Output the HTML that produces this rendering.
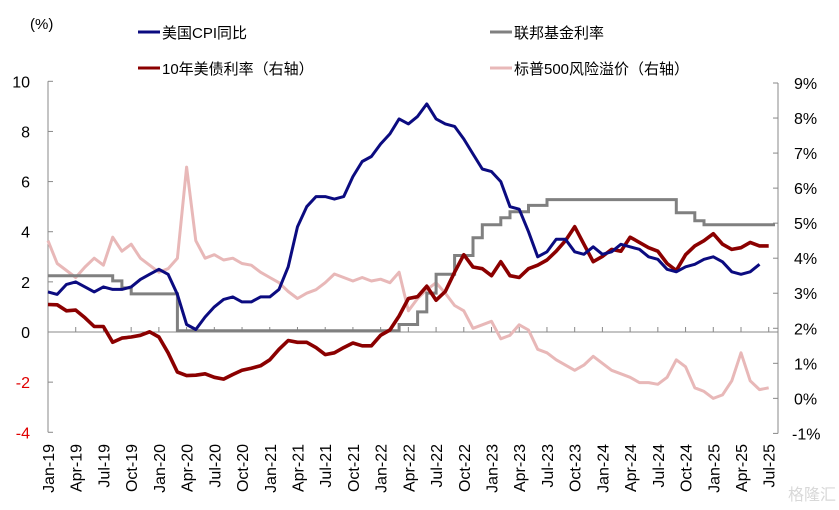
<!DOCTYPE html>
<html><head><meta charset="utf-8"><style>
body{margin:0;background:#fff;}
svg{display:block;font-family:"Liberation Sans","Noto Sans CJK SC",sans-serif;}
</style></head><body>
<svg id="chart" width="839" height="510" viewBox="0 0 839 510" xmlns="http://www.w3.org/2000/svg">
<g id="axes"></g>
<g id="series"></g>
<g id="legend">
  <text x="30" y="29" font-size="15">(%)</text>
  <line x1="138" y1="32" x2="160" y2="32" stroke="#0b0b80" stroke-width="3"/>
  <text x="162" y="38" font-size="15">美国CPI同比</text>
  <line x1="490" y1="32" x2="512" y2="32" stroke="#808080" stroke-width="3"/>
  <text x="514" y="38" font-size="15">联邦基金利率</text>
  <line x1="138" y1="68" x2="160" y2="68" stroke="#8b0000" stroke-width="3"/>
  <text x="162" y="74" font-size="15">10年美债利率（右轴）</text>
  <line x1="490" y1="68" x2="512" y2="68" stroke="#e8b8b8" stroke-width="3"/>
  <text x="514" y="74" font-size="15">标普500风险溢价（右轴）</text>
</g>
<text x="788" y="500" font-size="16" fill="#d8d8d8">格隆汇</text>
</svg>
<script>
const xLabels=["Jan-19","Apr-19","Jul-19","Oct-19","Jan-20","Apr-20","Jul-20","Oct-20","Jan-21","Apr-21","Jul-21","Oct-21","Jan-22","Apr-22","Jul-22","Oct-22","Jan-23","Apr-23","Jul-23","Oct-23","Jan-24","Apr-24","Jul-24","Oct-24","Jan-25","Apr-25","Jul-25"];
const leftTicks=[10,8,6,4,2,0,-2,-4];
const rightTicks=[9,8,7,6,5,4,3,2,1,0,-1];
const cpi=[1.6,1.5,1.9,2.0,1.8,1.6,1.8,1.7,1.7,1.8,2.1,2.3,
2.5,2.3,1.5,0.3,0.1,0.6,1.0,1.3,1.4,1.2,1.2,1.4,
1.4,1.7,2.6,4.2,5.0,5.4,5.4,5.3,5.4,6.2,6.8,7.0,
7.5,7.9,8.5,8.3,8.6,9.1,8.5,8.3,8.2,7.7,7.1,6.5,
6.4,6.0,5.0,4.9,4.0,3.0,3.2,3.7,3.7,3.2,3.1,3.4,
3.1,3.2,3.5,3.4,3.3,3.0,2.9,2.5,2.4,2.6,2.7,2.9,
3.0,2.8,2.4,2.3,2.4,2.7];
const fedFunds=[2.24,2.24,2.24,2.24,2.24,2.24,2.24,2.04,1.76,1.52,1.52,1.52,1.52,1.52,
0.05,0.05,0.05,0.05,0.05,0.05,0.05,0.05,0.05,0.05,0.05,0.05,0.05,0.05,0.05,0.05,0.05,0.05,0.05,0.05,0.05,0.05,0.05,0.05,
0.3,0.3,0.8,1.55,2.3,2.3,3.05,3.05,3.76,4.28,4.28,4.56,4.8,4.8,5.05,5.05,
5.28,5.28,5.28,5.28,5.28,5.28,5.28,5.28,5.28,5.28,5.28,5.28,5.28,5.28,
4.76,4.76,4.44,4.28,4.28,4.28,4.28,4.28,4.28,4.28,4.28];
const tenYear=[2.68,2.67,2.5,2.52,2.3,2.05,2.05,1.6,1.72,1.75,1.8,1.9,
1.75,1.3,0.75,0.65,0.66,0.7,0.6,0.55,0.68,0.8,0.86,0.93,
1.1,1.4,1.65,1.6,1.6,1.45,1.25,1.3,1.45,1.58,1.5,1.5,
1.8,1.95,2.35,2.85,2.9,3.2,2.8,3.05,3.6,4.1,3.75,3.7,
3.5,3.9,3.5,3.45,3.7,3.8,3.95,4.2,4.5,4.9,4.4,3.9,
4.05,4.25,4.2,4.6,4.45,4.3,4.2,3.85,3.65,4.1,4.35,4.5,
4.7,4.4,4.25,4.3,4.45,4.35,4.35];
const erp=[4.5,3.85,3.65,3.45,3.75,4.0,3.8,4.6,4.2,4.4,4.0,3.8,
3.6,3.7,4.0,6.6,4.5,4.0,4.1,3.95,4.0,3.85,3.8,3.6,
3.45,3.3,3.05,2.85,3.0,3.1,3.3,3.55,3.45,3.35,3.45,3.35,
3.4,3.3,3.6,2.5,2.85,3.1,3.3,3.0,2.65,2.5,2.0,2.1,
2.2,1.7,1.8,2.1,1.95,1.4,1.3,1.1,0.95,0.8,0.95,1.2,
1.0,0.8,0.7,0.6,0.45,0.45,0.4,0.6,1.1,0.9,0.3,0.2,
0.0,0.1,0.5,1.3,0.5,0.25,0.3];

const NS="http://www.w3.org/2000/svg";
const X0=48, MW=9.24, XR=778;
const x=m=>X0+m*MW;
const yL=v=>332-v*25.07;
const yR=v=>83+(9-v)*35.04;
const axes=document.getElementById('axes');
const series=document.getElementById('series');
function mk(tag,attrs,parent){const e=document.createElementNS(NS,tag);for(const k in attrs)e.setAttribute(k,attrs[k]);parent.appendChild(e);return e;}

let e=mk('line',{x1:X0,y1:yL(10),x2:X0,y2:yL(-4),stroke:'#888','stroke-width':1},axes);


e=mk('line',{x1:XR,y1:yR(9),x2:XR,y2:yR(-1),stroke:'#888','stroke-width':1},axes);


e=mk('line',{x1:X0,y1:yL(0),x2:XR,y2:yL(0),stroke:'#888','stroke-width':1},axes);


leftTicks.forEach(v=>{
  const t=mk('line',{x1:X0,y1:yL(v),x2:X0+5,y2:yL(v),stroke:'#888'},axes);
  
  
  const l=mk('text',{x:30,y:yL(v)+6,'font-size':16,'text-anchor':'end',fill:v<0?'#e00000':'#000'},axes);
  l.textContent=v;
  
  
});
rightTicks.forEach(v=>{
  const t=mk('line',{x1:XR-5,y1:yR(v),x2:XR,y2:yR(v),stroke:'#888'},axes);
  
  
  const l=mk('text',{x:v<0?792:794,y:yR(v)+6,'font-size':16,fill:'#000'},axes);
  l.textContent=v+'%';
  
  
});
xLabels.forEach((s,i)=>{
  const m=i*3, xx=x(m);
  const t=mk('line',{x1:xx,y1:yL(0),x2:xx,y2:yL(0)-5,stroke:'#888'},axes);
  
  
  const l=mk('text',{x:0,y:0,'font-size':16,'text-anchor':'end',transform:`translate(${xx+6},444) rotate(-90)`},axes);
  l.textContent=s;
  
  
});

function line(arr,yf,color,w,name){
  const d=arr.map((v,i)=>(i?'L':'M')+x(i).toFixed(1)+','+yf(v).toFixed(1)).join('');
  const p=mk('path',{d:d,fill:'none',stroke:color,'stroke-width':w,'stroke-linejoin':'round'},series);
  
  
}
function step(arr,yf,color,w,name){
  let d='';
  arr.forEach((v,i)=>{d+=(i?'L':'M')+x(i).toFixed(1)+','+yf(v).toFixed(1)+'L'+Math.min(x(i+1),XR-3).toFixed(1)+','+yf(v).toFixed(1);});
  const p=mk('path',{d:d,fill:'none',stroke:color,'stroke-width':w},series);
  
  
}
line(erp,yR,'#e8b8b8',3,'erp-line');
step(fedFunds,yL,'#808080',3,'fed-funds-line');
line(tenYear,yR,'#8b0000',3.6,'ten-year-line');
line(cpi,yL,'#0b0b80',3,'cpi-line');
</script>
</body></html>
